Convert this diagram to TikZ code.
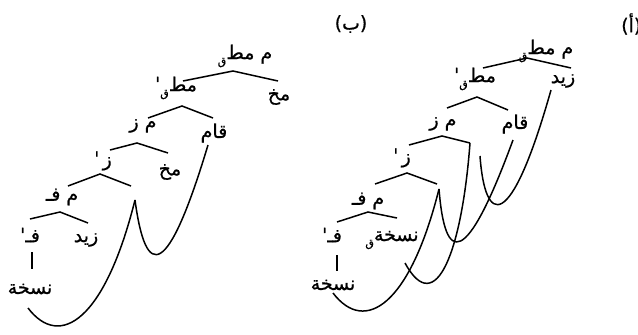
\documentclass[tikz,border=0pt]{standalone}
\usepackage{fontspec}
\TeXXeTstate=1
\newfontfamily\ar[Script=Arabic,FakeBold=0.7]{DejaVu Sans}
\newfontfamily\dv[FakeBold=1.2]{DejaVu Sans}
\newcommand{\AR}[1]{{\ar\beginR #1\endR}}
\newcommand{\sbs}[1]{\raisebox{-0.55ex}{\fontsize{11}{11}\selectfont\AR{#1}}}
\newcommand{\prm}{{\dv ˈ}}
\newcommand{\mtq}{\sbs{ق}\AR{مط}}
\tikzset{
  lab/.style={inner sep=0pt, font=\ar\fontsize{19}{21}\selectfont},
  br/.style={line width=1.5pt, line join=miter},
  mv/.style={line width=1.5pt}
}
\begin{document}
\begin{tikzpicture}[x=1pt,y=-1pt]
\useasboundingbox (0,0) rectangle (638,335);
% ---------- left tree (b)
\node[lab] (Ltop) at (245,56) {\mtq\ \AR{م}};
\coordinate (La1) at (233,71); \coordinate (La1l) at (183,81); \coordinate (La1r) at (278,81);
\node[lab] (Lp1) at (176,88) {\prm\mtq};
\node[lab] (Lmx1) at (279,97) {\AR{مخ}};
\coordinate (La2) at (182,106); \coordinate (La2l) at (148,118); \coordinate (La2r) at (213,118);
\node[lab] (Lmz) at (143,126) {\AR{ز}\ \AR{م}};
\node[lab] (Lqam) at (214,133) {\AR{قام}};
\coordinate (La3) at (137,143); \coordinate (La3l) at (110,150); \coordinate (La3r) at (168,153);
\node[lab] (Lzp) at (103,161) {\prm\,\AR{ز}};
\node[lab] (Lmx2) at (170,172) {\AR{مخ}};
\coordinate (La4) at (100,174); \coordinate (La4l) at (68,186); \coordinate (La4r) at (131,186);
\coordinate (Ltr) at (135,200);
\node[lab] (Lmf) at (62,197) {\AR{فـ}\ \AR{م}};
\coordinate (La5) at (60,212); \coordinate (La5l) at (30,219); \coordinate (La5r) at (88,223);
\node[lab] (Lfp) at (30,235) {\prm\AR{فـ}};
\node[lab] (Lzyd) at (86,240) {\AR{زيد}};
\coordinate (Lv1) at (32,252); \coordinate (Lv2) at (32,269);
\node[lab] (Lnus) at (30,289) {\AR{نسخة}};
\coordinate (Lq) at (208,145); \coordinate (Lend) at (28,308);
\draw[br] (La1l) -- (La1) -- (La1r);
\draw[br] (La2l) -- (La2) -- (La2r);
\draw[br] (La3l) -- (La3) -- (La3r);
\draw[br] (La4l) -- (La4) -- (La4r);
\draw[br] (La5l) -- (La5) -- (La5r);
\draw[br] (Lv1) -- (Lv2);
\draw[mv] (Ltr) .. controls (146,282) and (168,278) .. (Lq);
\draw[mv] (Ltr) .. controls (105,320) and (60,350) .. (Lend);
% ---------- right tree (a)
\node[lab] (Rb) at (351,24) {(ب)};
\node[lab, anchor=west] (Ra) at (621,24) {(أ)};
\node[lab] (Rtop) at (546,51) {\mtq\ \AR{م}};
\coordinate (Ra1) at (527,58); \coordinate (Ra1l) at (483,68); \coordinate (Ra1r) at (571,68);
\node[lab] (Rp1) at (475,79) {\prm\mtq};
\node[lab] (Rzyd) at (563,81) {\AR{زيد}};
\coordinate (Ra2) at (477,97); \coordinate (Ra2l) at (447,108); \coordinate (Ra2r) at (508,110);
\node[lab] (Rmz) at (443,124) {\AR{ز}\ \AR{م}};
\node[lab] (Rqam) at (515,124) {\AR{قام}};
\coordinate (Ra3) at (442,136); \coordinate (Ra3l) at (409,145); \coordinate (Ra3r) at (470,143);
\node[lab] (Rzp) at (402,158) {\prm\,\AR{ز}};
\coordinate (Ra4) at (407,173); \coordinate (Ra4l) at (375,184); \coordinate (Ra4r) at (437,184);
\node[lab] (Rmf) at (368,201) {\AR{فـ}\ \AR{م}};
\coordinate (Ra5) at (368,212); \coordinate (Ra5l) at (337,222); \coordinate (Ra5r) at (397,218);
\node[lab] (Rfp) at (332,235) {\prm\AR{فـ}};
\node[lab] (Rnusi) at (392,240) {\sbs{ق}\AR{نسخة}};
\coordinate (Rv1) at (337,255); \coordinate (Rv2) at (337,271);
\node[lab] (Rnus) at (333,285) {\AR{نسخة}};
\coordinate (RtT) at (439,189); \coordinate (RtS) at (480,156);
\coordinate (Rq) at (513,140); \coordinate (Rz) at (551,90);
\coordinate (Rend) at (333,293); \coordinate (Rend2) at (405,263);
\draw[br] (Ra1l) -- (Ra1) -- (Ra1r);
\draw[br] (Ra2l) -- (Ra2) -- (Ra2r);
\draw[br] (Ra3l) -- (Ra3) -- (Ra3r);
\draw[br] (Ra4l) -- (Ra4) -- (Ra4r);
\draw[br] (Ra5l) -- (Ra5) -- (Ra5r);
\draw[br] (Rv1) -- (Rv2);
\draw[mv] (RtT) .. controls (445,265) and (466,268) .. (Rq);
\draw[mv] (RtT) .. controls (410,305) and (365,335) .. (Rend);
\draw[mv] (Ra3r) .. controls (462,250) and (436,320) .. (Rend2);
\draw[mv] (RtS) .. controls (485,225) and (510,235) .. (Rz);
\end{tikzpicture}
\end{document}
